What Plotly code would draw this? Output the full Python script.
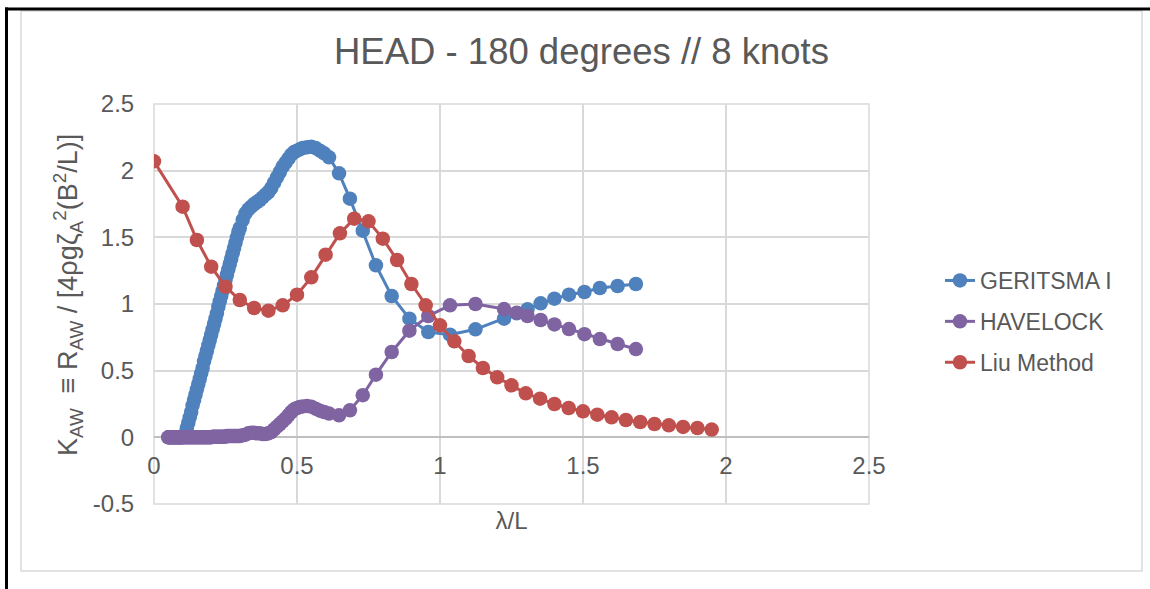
import plotly.graph_objects as go

# ---------------- data ----------------
lam_gh = [0.05, 0.055, 0.06, 0.065, 0.07, 0.075, 0.08, 0.085, 0.09, 0.095,
          0.10, 0.105, 0.11, 0.115, 0.12, 0.125, 0.13, 0.135, 0.14, 0.145,
          0.15, 0.155, 0.16, 0.165, 0.17, 0.175, 0.18, 0.185, 0.19, 0.195,
          0.20, 0.205, 0.21, 0.215, 0.22, 0.225, 0.23, 0.235, 0.24, 0.245,
          0.25, 0.255, 0.26, 0.265, 0.27, 0.275, 0.28, 0.285, 0.29, 0.295,
          0.30, 0.31, 0.32, 0.33, 0.34, 0.35, 0.36, 0.37, 0.38, 0.39,
          0.40, 0.41, 0.42, 0.43, 0.44, 0.45, 0.46, 0.47, 0.48, 0.49,
          0.50, 0.51, 0.52, 0.535, 0.55, 0.565, 0.58, 0.595, 0.612, 0.647,
          0.685, 0.73, 0.776, 0.831, 0.893, 0.959, 1.035, 1.124, 1.224, 1.268,
          1.306, 1.352, 1.40, 1.451, 1.505, 1.559, 1.621, 1.685]

geritsma = [0.0, 0.0, 0.0, 0.0, 0.0, 0.0, 0.0, 0.0, 0.0, 0.0,
            0.0, 0.01, 0.03, 0.07, 0.11, 0.15, 0.19, 0.24, 0.28, 0.32,
            0.36, 0.40, 0.44, 0.48, 0.52, 0.57, 0.61, 0.65, 0.69, 0.73,
            0.77, 0.81, 0.85, 0.89, 0.93, 0.98, 1.02, 1.06, 1.10, 1.14,
            1.18, 1.22, 1.26, 1.30, 1.34, 1.38, 1.42, 1.46, 1.50, 1.54,
            1.57, 1.63, 1.68, 1.71, 1.73, 1.75, 1.765, 1.78, 1.80, 1.82,
            1.84, 1.87, 1.91, 1.95, 1.99, 2.03, 2.06, 2.09, 2.12, 2.14,
            2.15, 2.16, 2.17, 2.175, 2.18, 2.17, 2.15, 2.13, 2.10, 1.98,
            1.79, 1.55, 1.29, 1.06, 0.89, 0.79, 0.77, 0.81, 0.89, 0.93,
            0.96, 1.005, 1.04, 1.07, 1.09, 1.12, 1.135, 1.15]

havelock = [0.0, 0.0, 0.0, 0.0, 0.0, 0.0, 0.0, 0.0, 0.0, 0.0,
            0.0, 0.0, 0.0, 0.0, 0.0, 0.0, 0.0, 0.0, 0.0, 0.0,
            0.0, 0.0, 0.0, 0.0, 0.0, 0.0, 0.0, 0.0, 0.0, 0.0,
            0.0, 0.005, 0.005, 0.005, 0.005, 0.005, 0.005, 0.005, 0.005, 0.005,
            0.005, 0.01, 0.01, 0.01, 0.01, 0.01, 0.01, 0.01, 0.01, 0.01,
            0.01, 0.015, 0.02, 0.03, 0.035, 0.035, 0.03, 0.03, 0.025, 0.025,
            0.03, 0.04, 0.06, 0.08, 0.10, 0.12, 0.14, 0.165, 0.19, 0.21,
            0.22, 0.228, 0.232, 0.235, 0.23, 0.215, 0.20, 0.19, 0.178, 0.165,
            0.203, 0.316, 0.47, 0.64, 0.80, 0.91, 0.99, 1.0, 0.962, 0.935,
            0.91, 0.88, 0.847, 0.812, 0.774, 0.737, 0.70, 0.662]

lam_liu = [0.0, 0.10, 0.15, 0.20, 0.25, 0.30, 0.35, 0.40, 0.45, 0.50,
           0.55, 0.60, 0.65, 0.70, 0.75, 0.80, 0.85, 0.90, 0.95, 1.00,
           1.05, 1.10, 1.15, 1.20, 1.25, 1.30, 1.35, 1.40, 1.45, 1.50,
           1.55, 1.60, 1.65, 1.70, 1.75, 1.80, 1.85, 1.90, 1.95]
liu = [2.07, 1.73, 1.48, 1.28, 1.13, 1.03, 0.97, 0.95, 0.99, 1.07,
       1.20, 1.37, 1.53, 1.64, 1.62, 1.49, 1.33, 1.15, 0.99, 0.84,
       0.72, 0.61, 0.52, 0.45, 0.39, 0.33, 0.29, 0.25, 0.22, 0.195,
       0.17, 0.15, 0.13, 0.115, 0.10, 0.09, 0.078, 0.07, 0.058]

x_ticks = [0, 0.5, 1, 1.5, 2, 2.5]
x_tick_labels = ["0", "0.5", "1", "1.5", "2", "2.5"]
y_ticks = [-0.5, 0, 0.5, 1, 1.5, 2, 2.5]
y_tick_labels = ["-0.5", "0", "0.5", "1", "1.5", "2", "2.5"]

series_names = ["GERITSMA I", "HAVELOCK", "Liu Method"]
colors = ["#4F81BD", "#8064A2", "#C0504D"]

# ---------------- layout geometry ----------------
W, H = 1150, 589
PL, PR, PT, PB = 154, 869, 104, 504
FONT = "Liberation Sans, Arial, sans-serif"
GREY = "#595959"
TICK_SIZE = 24


def px_x(px):
    return (px - PL) / (PR - PL)


def px_y(py):
    return (PB - py) / (PB - PT)


fig = go.Figure()
for i, (name, xs, ys, c) in enumerate([(series_names[0], lam_gh, geritsma, colors[0]),
                                       (series_names[1], lam_gh, havelock, colors[1]),
                                       (series_names[2], lam_liu, liu, colors[2])]):
    fig.add_trace(go.Scatter(
        x=xs, y=ys, name=name, mode="lines+markers", legendgroup="g%d" % i,
        line=dict(color=c, width=3),
        marker=dict(color=c, size=14.5, line=dict(width=0)),
    ))

fig.update_layout(
    width=W, height=H,
    margin=dict(l=PL, r=W - PR, t=PT, b=H - PB),
    paper_bgcolor="white", plot_bgcolor="white",
    font=dict(family=FONT, color=GREY, size=TICK_SIZE),
    title=dict(text="HEAD - 180 degrees // 8 knots",
               font=dict(size=36.5, color=GREY, family=FONT),
               x=581.5 / W, xref="container", xanchor="center",
               y=1 - 51 / H, yref="container", yanchor="middle"),
    showlegend=True,
    legend=dict(x=px_x(940), y=px_y(259), xanchor="left", yanchor="top",
                font=dict(size=23, color=GREY, family=FONT),
                bgcolor="rgba(0,0,0,0)", traceorder="grouped",
                tracegroupgap=8),
    xaxis=dict(range=[0, 2.5], tickvals=x_ticks, ticktext=x_tick_labels,
               showgrid=True, gridcolor="#D9D9D9", gridwidth=1.5,
               zeroline=False, showline=False,
               anchor="free", position=px_y(437),
               ticks="outside", ticklen=7, tickcolor="rgba(0,0,0,0)",
               tickfont=dict(size=TICK_SIZE, color=GREY),
               title=dict(text="λ/L", font=dict(size=TICK_SIZE, color=GREY), standoff=34)),
    yaxis=dict(range=[-0.5, 2.5], tickvals=y_ticks, ticktext=y_tick_labels,
               showgrid=True, gridcolor="#D9D9D9", gridwidth=1.5,
               zeroline=True, zerolinecolor="#BFBFBF", zerolinewidth=2,
               showline=False,
               ticks="outside", ticklen=14, tickcolor="rgba(0,0,0,0)",
               tickfont=dict(size=TICK_SIZE, color=GREY)),
)

# y-axis title as rotated annotation
fig.add_annotation(
    text="K<sub>AW</sub>  ≡ R<sub>AW</sub> / [4ρgζ<sub>A</sub><sup>2</sup>(B<sup>2</sup>/L)]",
    xref="paper", yref="paper", x=px_x(68), y=px_y(295),
    xanchor="center", yanchor="middle", textangle=-90, showarrow=False,
    font=dict(size=27, color=GREY, family=FONT))

# plot-area box
fig.add_shape(type="rect", xref="paper", yref="paper",
              x0=0, x1=1, y0=0, y1=1,
              line=dict(color="#D9D9D9", width=1.5), layer="below")
# chart-area border
fig.add_shape(type="rect", xref="paper", yref="paper",
              x0=px_x(21), x1=px_x(1142), y0=px_y(571), y1=px_y(11),
              line=dict(color="#D9D9D9", width=1.5), layer="below")
# black outer frame (left and top)
fig.add_shape(type="line", xref="paper", yref="paper",
              x0=px_x(6.5), x1=px_x(6.5), y0=px_y(600), y1=px_y(7.5),
              line=dict(color="black", width=3))
fig.add_shape(type="line", xref="paper", yref="paper",
              x0=px_x(5), x1=px_x(1160), y0=px_y(9), y1=px_y(9),
              line=dict(color="black", width=3))

fig.write_html("out.html")
